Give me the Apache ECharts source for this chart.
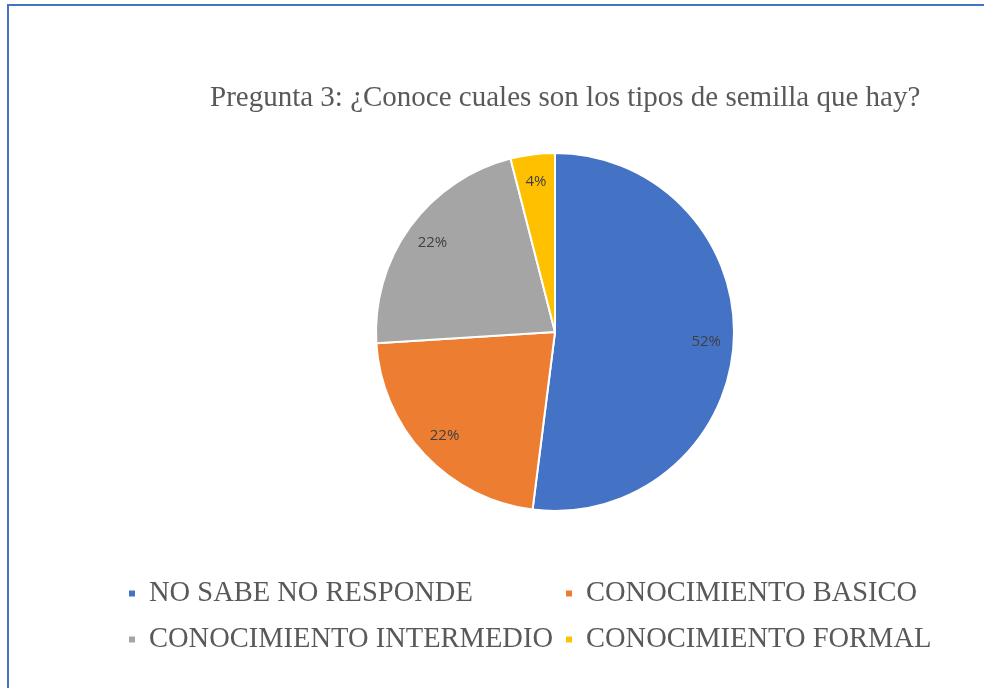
<!DOCTYPE html>
<html>
<head>
<meta charset="utf-8">
<script src="https://cdn.jsdelivr.net/npm/echarts@6/dist/echarts.min.js"></script>
<style>
html,body{margin:0;padding:0;background:#fff;}
#frame{position:absolute;left:7px;top:4px;width:1000px;height:700px;border-left:2px solid #4472C4;border-top:2px solid #4472C4;}
#chart{position:absolute;left:0;top:0;width:984px;height:688px;}
</style>
</head>
<body>
<div id="frame"></div>
<div id="chart"></div>
<script>
const titleText = 'Pregunta 3: ¿Conoce cuales son los tipos de semilla que hay?';
const categories = ['NO SABE NO RESPONDE', 'CONOCIMIENTO BASICO', 'CONOCIMIENTO INTERMEDIO', 'CONOCIMIENTO FORMAL'];
const values = [52, 22, 22, 4];
const colors = ['#4472C4', '#ED7D31', '#A5A5A5', '#FFC000'];

const data = categories.map((c, i) => ({ name: c, value: values[i], itemStyle: { color: colors[i] } }));
const serif = '"Liberation Serif", "DejaVu Serif", serif';

const chart = echarts.init(document.getElementById('chart'), null, { renderer: 'canvas' });
const legendBase = {
  orient: 'vertical',
  icon: 'rect',
  itemWidth: 8,
  itemHeight: 8,
  itemGap: 17,
  padding: 0,
  textStyle: { fontFamily: serif, fontSize: 28.5, color: '#595959', padding: [0, 0, 0, 8] },
  selectedMode: false
};
chart.setOption({
  animation: false,
  title: {
    text: titleText,
    left: 210,
    top: 84,
    padding: 0,
    textStyle: { fontFamily: serif, fontSize: 29, fontWeight: 'normal', color: '#595959' }
  },
  legend: [
    Object.assign({}, legendBase, { left: 127, top: 579, data: [categories[0], categories[2]] }),
    Object.assign({}, legendBase, { left: 564, top: 579, data: [categories[1], categories[3]] })
  ],
  series: [
    {
      type: 'pie',
      center: [555, 332],
      radius: [0, 179],
      startAngle: 90,
      clockwise: true,
      data: data,
      label: { show: false },
      labelLine: { show: false },
      itemStyle: { borderColor: '#ffffff', borderWidth: 2 },
      emphasis: { disabled: true }
    },
    {
      type: 'pie',
      center: [555, 332],
      radius: [118, 179],
      startAngle: 90,
      clockwise: true,
      silent: true,
      data: data.map(d => ({ name: d.name, value: d.value, itemStyle: { color: 'rgba(0,0,0,0)' } })),
      itemStyle: { borderWidth: 0 },
      label: {
        show: true,
        position: 'inside',
        formatter: p => Math.round(p.percent) + '%',
        fontFamily: '"Open Sans", "Liberation Sans", sans-serif',
        fontSize: 15,
        color: '#404040'
      },
      labelLine: { show: false },
      emphasis: { disabled: true }
    }
  ]
});
</script>
</body>
</html>
